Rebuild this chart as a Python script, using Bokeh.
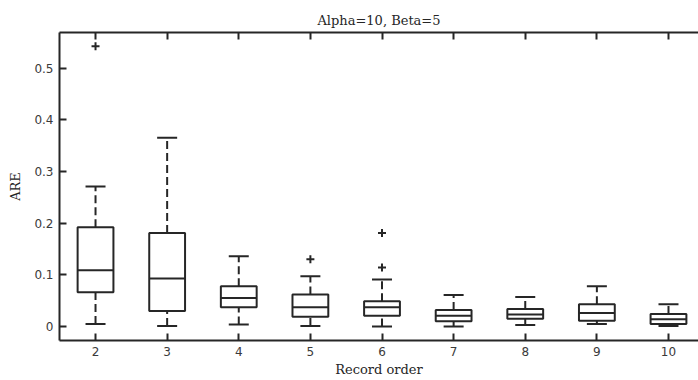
import numpy as np
from bokeh.plotting import figure
from bokeh.models import LinearAxis, FixedTicker, Range1d, Whisker, TeeHead, ColumnDataSource
from bokeh.embed import file_html
from bokeh.resources import INLINE

# ---- data ----
orders = [2, 3, 4, 5, 6, 7, 8, 9, 10]
upper_whisker = [0.271, 0.365, 0.136, 0.097, 0.091, 0.061, 0.057, 0.078, 0.043]
q3 = [0.192, 0.181, 0.078, 0.062, 0.049, 0.032, 0.034, 0.043, 0.024]
median = [0.109, 0.093, 0.055, 0.037, 0.037, 0.021, 0.023, 0.026, 0.014]
q1 = [0.066, 0.030, 0.037, 0.019, 0.021, 0.010, 0.015, 0.011, 0.005]
lower_whisker = [0.005, 0.001, 0.004, 0.001, 0.000, 0.000, 0.003, 0.005, 0.001]
outlier_x = [2, 5, 6, 6]
outlier_y = [0.542, 0.130, 0.181, 0.114]
yticks = [0, 0.1, 0.2, 0.3, 0.4, 0.5]
ytick_labels = ["0", "0.1", "0.2", "0.3", "0.4", "0.5"]

title_text = "Alpha=10, Beta=5"
xlabel = "Record order"
ylabel = "ARE"

INK = "#262626"
SERIF = "DejaVu Serif"
SANS = "DejaVu Sans"
box_w = 0.5

x = np.array(orders, dtype=float)
src = ColumnDataSource(dict(
    x=x, up=upper_whisker, q3=q3, med=median, q1=q1, lo=lower_whisker,
    mx0=x - box_w / 2, mx1=x + box_w / 2,
))

p = figure(width=698, height=380, output_backend="svg", toolbar_location=None,
           x_range=Range1d(1.497, 10.419), y_range=Range1d(-0.0271, 0.5687),
           min_border_left=59, min_border_right=0, min_border_bottom=40,
           min_border_top=32, x_axis_location=None, y_axis_location=None,
           title=title_text)
p.outline_line_color = None
p.xgrid.visible = False
p.ygrid.visible = False
p.background_fill_color = "white"
p.border_fill_color = "white"

p.title.text_font = SERIF
p.title.text_font_style = "normal"
p.title.text_font_size = "13px"
p.title.text_color = INK
p.title.align = "center"
p.title.standoff = 9

def style_axis(ax, labels=True):
    ax.axis_line_color = INK
    ax.axis_line_width = 2
    ax.major_tick_line_color = INK
    ax.major_tick_line_width = 2
    ax.major_tick_in = 7
    ax.major_tick_out = 0
    ax.minor_tick_line_color = None
    if labels:
        ax.major_label_text_font = SANS
        ax.major_label_text_font_size = "12px"
        ax.major_label_text_color = "#3a3a3a"
        ax.major_label_standoff = 6
        ax.axis_label_text_font = SERIF
        ax.axis_label_text_font_style = "normal"
        ax.axis_label_text_font_size = "13px"
        ax.axis_label_text_color = INK
    else:
        ax.major_label_standoff = 0

xb = LinearAxis(ticker=FixedTicker(ticks=orders), axis_label=xlabel)
style_axis(xb)
xb.axis_label_standoff = 3
p.add_layout(xb, "below")

xt = LinearAxis(ticker=FixedTicker(ticks=orders),
                major_label_overrides={t: "" for t in orders})
style_axis(xt, labels=False)
p.add_layout(xt, "above")

yl = LinearAxis(ticker=FixedTicker(ticks=yticks), axis_label=ylabel,
                major_label_overrides={t: s for t, s in zip(yticks, ytick_labels)})
style_axis(yl)
yl.axis_label_standoff = 8
p.add_layout(yl, "left")

# whiskers (dashed stems with solid caps)
for base_lo, base_hi in (("q3", "up"), ("lo", "q1")):
    head = TeeHead(size=20, line_color=INK, line_width=2)
    w = Whisker(source=src, base="x", lower=base_lo, upper=base_hi, dimension="height",
                line_color=INK, line_width=2, line_dash="8 4",
                upper_head=head if base_hi == "up" else None,
                lower_head=head if base_lo == "lo" else None)
    p.add_layout(w)

# boxes
p.vbar(x="x", width=box_w, top="q3", bottom="q1", source=src,
       fill_color="white", line_color=INK, line_width=2)
# medians
p.segment(x0="mx0", x1="mx1", y0="med", y1="med", source=src,
          line_color=INK, line_width=2)
# outliers
p.scatter(outlier_x, outlier_y, marker="cross", size=8, line_color=INK, line_width=2)

open("out.html", "w").write(file_html(p, INLINE))
